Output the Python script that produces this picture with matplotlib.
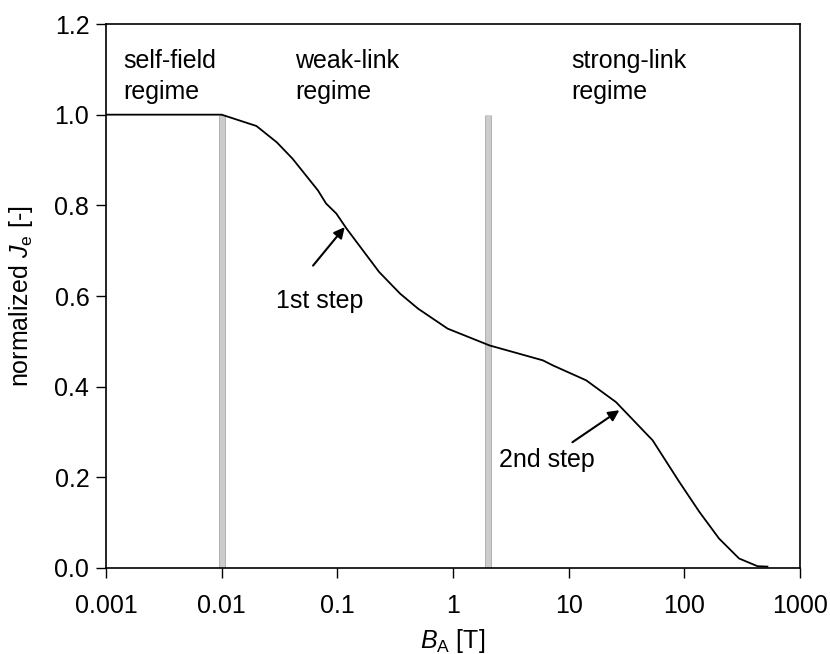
import matplotlib
matplotlib.use('Agg')
import matplotlib.pyplot as plt
from matplotlib.ticker import FixedLocator, FixedFormatter, NullLocator

plt.rcParams['font.family'] = ['Liberation Sans', 'DejaVu Sans']
plt.rcParams['mathtext.fontset'] = 'custom'
plt.rcParams['mathtext.it'] = 'Liberation Sans:italic'
plt.rcParams['mathtext.rm'] = 'Liberation Sans'

# normalized engineering current density vs applied field
field = [0.001, 0.005, 0.01, 0.02, 0.03, 0.041, 0.068, 0.08, 0.098, 0.12,
         0.23, 0.35, 0.5, 0.9, 2.07, 6.0, 7.3, 14.2, 25.7, 50.0, 53.2,
         90.6, 135, 200, 298, 430, 524]
je_norm = [1.0, 1.0, 1.0, 0.975, 0.939, 0.903, 0.833, 0.804, 0.782, 0.749,
           0.653, 0.605, 0.572, 0.528, 0.491, 0.458, 0.447, 0.414, 0.366,
           0.289, 0.282, 0.19, 0.124, 0.065, 0.021, 0.004, 0.003]

# boundaries between regimes
regime_bounds = [0.01, 2.0]
regime_names = ['self-field\nregime', 'weak-link\nregime', 'strong-link\nregime']
regime_label_x = [0.0014, 0.043, 10.6]

x_ticks = [0.001, 0.01, 0.1, 1, 10, 100, 1000]
x_tick_labels = ['0.001', '0.01', '0.1', '1', '10', '100', '1000']
y_ticks = [0.0, 0.2, 0.4, 0.6, 0.8, 1.0, 1.2]

FS = 18

fig = plt.figure(figsize=(8.3, 6.54), dpi=100)
ax = fig.add_axes([0.1277, 0.1315, 0.836, 0.8318])

for b in regime_bounds:
    ax.plot([b, b], [0, 1.0], color='#b0b0b0', lw=5.0, solid_capstyle='butt',
            zorder=1)
    ax.plot([b, b], [0, 1.0], color='#cccccc', lw=3.6, solid_capstyle='butt',
            zorder=1)

ax.plot(field, je_norm, color='black', lw=1.3, zorder=3)

for name, xpos in zip(regime_names, regime_label_x):
    ax.text(xpos, 1.145, name, fontsize=FS, va='top', ha='left',
            linespacing=1.35)

arrow = dict(arrowstyle='-|>', color='black', lw=1.5, mutation_scale=16,
             shrinkA=0, shrinkB=0)
ax.annotate('', xy=(0.116, 0.752), xytext=(0.0617, 0.667), arrowprops=arrow)
ax.text(0.0704, 0.573, '1st step', fontsize=FS, ha='center', va='baseline')
ax.annotate('', xy=(27.5, 0.348), xytext=(10.8, 0.2775), arrowprops=arrow)
ax.text(6.43, 0.2225, '2nd step', fontsize=FS, ha='center', va='baseline')

ax.set_xscale('log')
ax.set_xlim(0.001, 1000)
ax.set_ylim(0, 1.2)
ax.xaxis.set_major_locator(FixedLocator(x_ticks))
ax.xaxis.set_major_formatter(FixedFormatter(x_tick_labels))
ax.xaxis.set_minor_locator(NullLocator())
ax.set_yticks(y_ticks)
ax.set_yticklabels(['%.1f' % v for v in y_ticks])

ax.tick_params(axis='both', which='major', direction='out', length=7,
               width=1, labelsize=FS, pad=5, top=False, right=False)
ax.tick_params(axis='x', pad=12)
for s in ax.spines.values():
    s.set_linewidth(1.2)

ax.set_xlabel(r'$\mathit{B}_{\mathrm{A}}$ [T]', fontsize=FS, labelpad=6)
ax.set_ylabel(r'normalized $\mathit{J}_{\mathrm{e}}$ [-]', fontsize=FS,
              labelpad=14)

plt.savefig('out.png', dpi=100)
